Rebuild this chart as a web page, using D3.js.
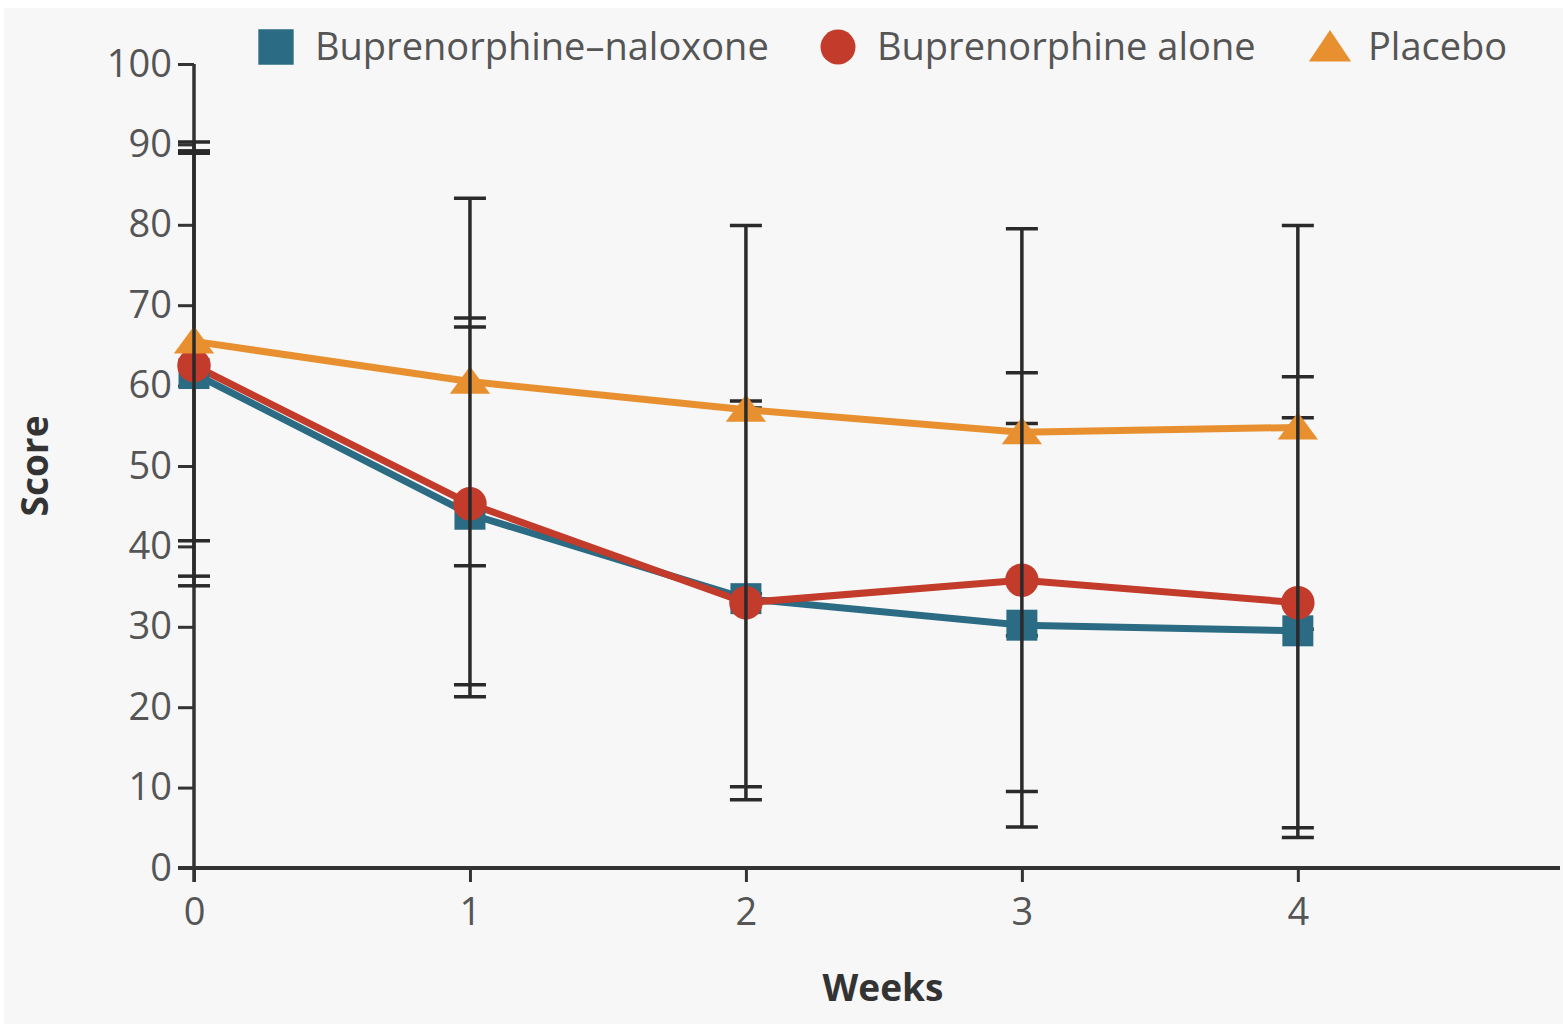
<!DOCTYPE html>
<html>
<head>
<meta charset="utf-8">
<script src="https://cdn.jsdelivr.net/npm/d3@7"></script>
<style>
  body { margin: 0; background: #fff; }
  svg { display: block; }
</style>
</head>
<body>
<svg id="chart" width="1563" height="1029"></svg>
<script>
// data
const weeks = [0, 1, 2, 3, 4];
const seriesNames = ["Buprenorphine\u2013naloxone", "Buprenorphine alone", "Placebo"];

const bnMean  = [61.5, 44.0, 33.5, 30.2, 29.5];
const bnUpper = [88.9, 67.3, 58.1, 55.3, 56.0];
const bnLower = [35.1, 21.3, 10.1, 5.1, 3.8];

const baMean  = [62.5, 45.3, 33.0, 35.8, 33.0];
const baUpper = [89.2, 68.4, 57.2, 61.6, 61.1];
const baLower = [36.3, 22.8, 8.5, 9.5, 5.0];

const plMean  = [65.5, 60.5, 57.0, 54.2, 54.8];
const plUpper = [90.3, 83.3, 79.9, 79.5, 79.9];
const plLower = [40.7, 37.6, 34.1, 28.9, 29.7];

const yTicks = [0, 10, 20, 30, 40, 50, 60, 70, 80, 90, 100];

const colors = ["#2b6b84", "#c23b2b", "#e8902f"];
const shapes = [d3.symbolSquare, d3.symbolCircle, d3.symbolTriangle];
const sizes = [960, 880, 560];

const series = [
  { name: seriesNames[0], mean: bnMean, upper: bnUpper, lower: bnLower },
  { name: seriesNames[1], mean: baMean, upper: baUpper, lower: baLower },
  { name: seriesNames[2], mean: plMean, upper: plUpper, lower: plLower }
];

const svg = d3.select("#chart"),
  font = "'Open Sans', 'DejaVu Sans', sans-serif";

// light grey panel
svg.append("rect")
  .attr("x", 4).attr("y", 8)
  .attr("width", 1559).attr("height", 1016)
  .attr("fill", "#f7f7f7");

const x = d3.scaleLinear().domain([0, 4.95]).range([194, 1560]);
const y = d3.scaleLinear().domain([0, 100]).range([868, 64]);

// y axis
const yAxis = svg.append("g")
  .attr("transform", `translate(${x(0)},0)`)
  .call(d3.axisLeft(y).tickValues(yTicks).tickSize(16).tickPadding(6));
yAxis.select(".domain").remove();
yAxis.selectAll(".tick line").attr("stroke", "#333").attr("stroke-width", 3);
yAxis.selectAll(".tick text")
  .attr("fill", "#555").attr("font-size", 38).attr("font-family", font);
svg.append("line")
  .attr("x1", x(0)).attr("x2", x(0))
  .attr("y1", y(100)).attr("y2", y(0) + 14)
  .attr("stroke", "#333").attr("stroke-width", 3.5);

// x axis
const xAxis = svg.append("g")
  .attr("transform", `translate(0,${y(0)})`)
  .call(d3.axisBottom(x).tickValues(weeks).tickSize(14).tickPadding(16).tickFormat(d3.format("d")));
xAxis.select(".domain").remove();
xAxis.selectAll(".tick line").attr("stroke", "#333").attr("stroke-width", 3);
xAxis.selectAll(".tick text")
  .attr("fill", "#555").attr("font-size", 38).attr("font-family", font);
svg.append("line")
  .attr("x1", x(0) - 16).attr("x2", x(4.95))
  .attr("y1", y(0)).attr("y2", y(0))
  .attr("stroke", "#333").attr("stroke-width", 4);

// axis titles
svg.append("text")
  .attr("transform", `translate(48,${y(50)}) rotate(-90)`)
  .attr("text-anchor", "middle")
  .attr("font-family", font).attr("font-weight", "bold")
  .attr("font-size", 37).attr("fill", "#333")
  .text("Score");
svg.append("text")
  .attr("x", 883).attr("y", 1001)
  .attr("text-anchor", "middle")
  .attr("font-family", font).attr("font-weight", "bold")
  .attr("font-size", 37).attr("fill", "#333")
  .text("Weeks");

// error bar caps (under the lines)
const capW = 16;
series.forEach(s => {
  weeks.forEach((w, i) => {
    [s.upper[i], s.lower[i]].forEach(v => {
      svg.append("line")
        .attr("x1", x(w) - capW).attr("x2", x(w) + capW)
        .attr("y1", y(v)).attr("y2", y(v))
        .attr("stroke", "#2a2a2a").attr("stroke-width", 3.5);
    });
  });
});

// lines + markers
const line = d3.line().x((d, i) => x(weeks[i])).y(d => y(d));
series.forEach((s, k) => {
  svg.append("path")
    .datum(s.mean)
    .attr("d", line)
    .attr("fill", "none")
    .attr("stroke", colors[k])
    .attr("stroke-width", 7)
    .attr("stroke-linejoin", "round");
});
series.forEach((s, k) => {
  svg.selectAll(null)
    .data(s.mean)
    .enter().append("path")
    .attr("transform", (d, i) => `translate(${x(weeks[i])},${y(d) + (k == 2 ? 3 : 0)})` + (k == 2 ? " scale(1.12,0.88)" : ""))
    .attr("d", d3.symbol().type(shapes[k]).size(sizes[k]))
    .attr("fill", colors[k]);
});

// error bar stems on top
weeks.forEach((w, i) => {
  const hi = d3.max(series, s => s.upper[i]),
    lo = d3.min(series, s => s.lower[i]);
  svg.append("line")
    .attr("x1", x(w)).attr("x2", x(w))
    .attr("y1", y(hi)).attr("y2", y(lo))
    .attr("stroke", "#2a2a2a").attr("stroke-width", 3.5);
});

// legend
const legendX = [276, 838, 1330],
  legendText = [315, 877, 1368];
series.forEach((s, k) => {
  svg.append("path")
    .attr("transform", `translate(${legendX[k]},${k == 2 ? 51 : 47})` + (k == 2 ? " scale(1.1,0.95)" : ""))
    .attr("d", d3.symbol().type(shapes[k]).size(k == 0 ? 1250 : k == 1 ? 960 : 640))
    .attr("fill", colors[k]);
  svg.append("text")
    .attr("x", legendText[k]).attr("y", 60)
    .attr("font-family", font).attr("font-size", 38)
    .attr("fill", "#555")
    .text(s.name);
});
</script>
</body>
</html>
